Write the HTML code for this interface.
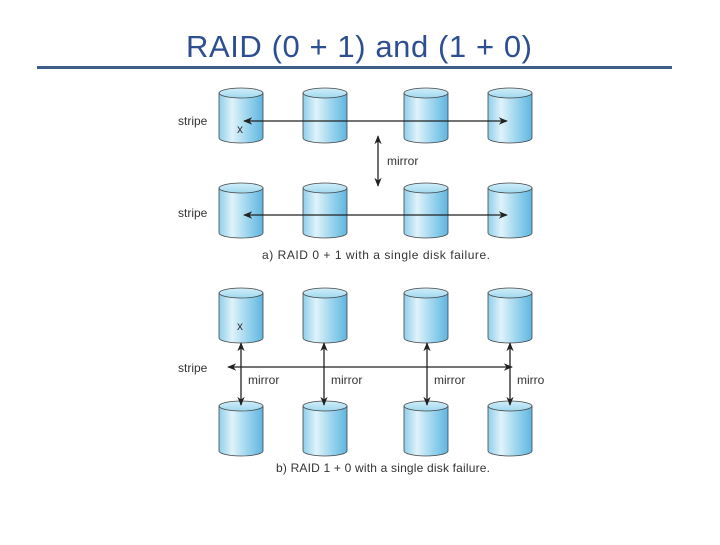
<!DOCTYPE html>
<html><head><style>
body{margin:0;width:720px;height:540px;background:#fff;overflow:hidden;font-family:"Liberation Sans",sans-serif}
</style></head><body>
<svg width="720" height="540" xmlns="http://www.w3.org/2000/svg" font-family="Liberation Sans, sans-serif">
<defs>
<linearGradient id="g" x1="0" x2="1" y1="0" y2="0">
<stop offset="0" stop-color="#8fcfea"/><stop offset="0.3" stop-color="#dff2fa"/><stop offset="0.7" stop-color="#92d0ec"/><stop offset="1" stop-color="#5fb6df"/>
</linearGradient>
<linearGradient id="t" x1="0" x2="0" y1="0" y2="1">
<stop offset="0" stop-color="#d2eefa"/><stop offset="1" stop-color="#a0d8f0"/>
</linearGradient>
<marker id="a" viewBox="0 0 10 10" refX="9" refY="5" markerWidth="7" markerHeight="7" orient="auto-start-reverse"><path d="M0,1 L10,5 L0,9 L3,5 z" fill="#222"/></marker>
<g id="c">
<path d="M-22,5 L-22,50 A22,5 0 0 0 22,50 L22,5 Z" fill="url(#g)" stroke="#444" stroke-width="0.8"/>
<ellipse cx="0" cy="5" rx="22" ry="5" fill="url(#t)" stroke="#444" stroke-width="0.8"/>
</g>
</defs>
<text x="359" y="57" text-anchor="middle" font-size="31" fill="#2d4f91" textLength="346" lengthAdjust="spacing">RAID (0 + 1) and (1 + 0)</text>
<rect x="37" y="66" width="635" height="3" fill="#3d5f87"/>
<g>
<use href="#c" x="241" y="88"/><use href="#c" x="325" y="88"/><use href="#c" x="426" y="88"/><use href="#c" x="510" y="88"/>
<use href="#c" x="241" y="183"/><use href="#c" x="325" y="183"/><use href="#c" x="426" y="183"/><use href="#c" x="510" y="183"/>
<use href="#c" x="241" y="288"/><use href="#c" x="325" y="288"/><use href="#c" x="426" y="288"/><use href="#c" x="510" y="288"/>
<use href="#c" x="241" y="401"/><use href="#c" x="325" y="401"/><use href="#c" x="426" y="401"/><use href="#c" x="510" y="401"/>
</g>
<g stroke="#222" stroke-width="1.3" marker-start="url(#a)" marker-end="url(#a)">
<line x1="244" y1="121" x2="507" y2="121"/>
<line x1="244" y1="215" x2="507" y2="215"/>
<line x1="378" y1="136" x2="378" y2="186"/>
<line x1="228" y1="367" x2="512" y2="367"/>
<line x1="241" y1="343" x2="241" y2="405"/>
<line x1="324" y1="343" x2="324" y2="405"/>
<line x1="427" y1="343" x2="427" y2="405"/>
<line x1="510" y1="343" x2="510" y2="405"/>
</g>
<g font-size="12" fill="#333">
<text x="178" y="125">stripe</text>
<text x="178" y="217">stripe</text>
<text x="178" y="372">stripe</text>
<text x="237" y="133">x</text>
<text x="237" y="330">x</text>
<text x="387" y="165">mirror</text>
<text x="248" y="384">mirror</text>
<text x="331" y="384">mirror</text>
<text x="434" y="384">mirror</text>
<text x="517" y="384">mirro</text>
<text x="262" y="259" textLength="228" lengthAdjust="spacing">a) RAID 0 + 1 with a single disk failure.</text>
<text x="276" y="472" textLength="214" lengthAdjust="spacing">b) RAID 1 + 0 with a single disk failure.</text>
</g>
</svg>
</body></html>
